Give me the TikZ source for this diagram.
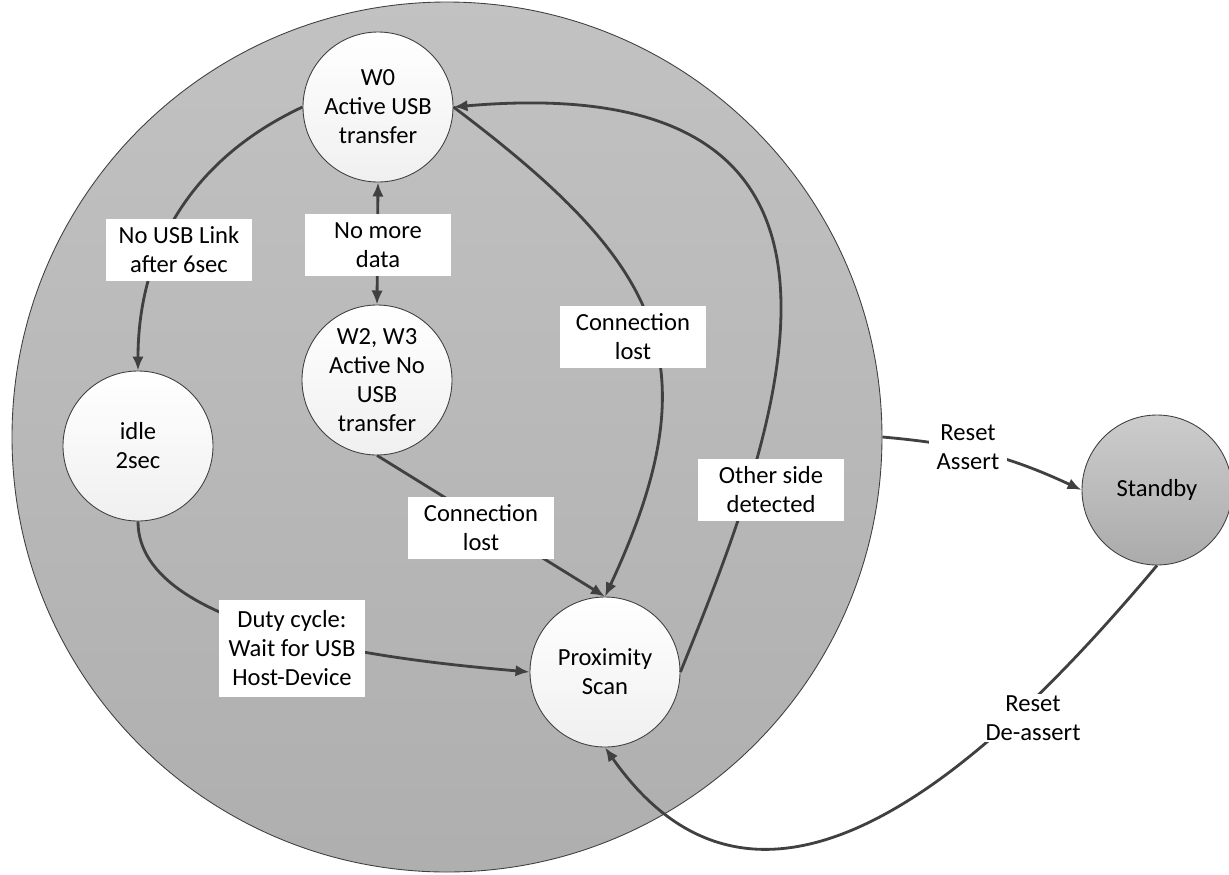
\documentclass[tikz,border=0pt]{standalone}
\usepackage{fontspec}
\setmainfont{Carlito}
\usepackage{tikz}
\usetikzlibrary{arrows.meta, shapes, calc}

\definecolor{linie}{HTML}{404040}

\begin{document}
\begin{tikzpicture}[>={Latex[length=8pt,width=6.5pt]}, thick, inner sep=0pt,
	zustand/.style={circle, draw=linie, line width=0.5pt, top color=white, bottom color=gray!12, minimum size=3cm, align=center, font=\fontsize{14}{16.5}\selectfont},
	box/.style={fill=white, minimum width=2.92cm, minimum height=1.24cm, align=center, font=\fontsize{14}{16.5}\selectfont},
	pfeil/.style={draw=linie, line width=1.6pt}]

	\useasboundingbox (0,0) rectangle (24.58,-17.48);

	% System
	\node[circle, draw=linie, line width=0.5pt, top color=gray!48, bottom color=gray!63, minimum size=17.4cm](sys) at (8.94,-8.74) {};

	% Zustaende
	\node[zustand](w0) at (7.56,-2.14) {W0\\Active USB\\transfer};
	\node[zustand](w2) at (7.54,-7.6) {W2, W3\\Active No\\USB\\transfer};
	\node[zustand](idle) at (2.76,-8.92) {idle\\2sec};
	\node[zustand](prox) at (12.1,-13.44) {Proximity\\Scan};
	\node[zustand, top color=gray!40, bottom color=gray!66](standby) at (23.14,-9.8) {Standby};

	% Uebergaenge
	\draw[pfeil, ->](w0.west) to[out=205, in=90] (idle.north);
	\draw[pfeil, <->](w0.south) -- (w2.north);
	\draw[pfeil, ->](w0.east) to[out=-37, in=65, looseness=1.3] (prox.north);
	\draw[pfeil, ->](w2.south) -- (prox.north);
	\draw[pfeil, ->](idle.south) to[out=-90, in=175, looseness=0.7] (prox.west);
	\draw[pfeil, ->](prox.east) to[out=68, in=5, out distance=5.14cm, in distance=9.4cm] (w0.east);
	\draw[pfeil, ->](sys.east) to[out=-5, in=155] (standby.west);
	\draw[pfeil, ->](standby.south) to[out=-130, in=-55, looseness=1.2] (prox.south);

	% Beschriftungen
	\node[box](l_nousb) at (3.58,-5.0) {No USB Link\\after 6sec};
	\node[box](l_nomore) at (7.56,-4.9) {No more\\data};
	\node[box](l_conn_a) at (12.66,-6.74) {Connection\\lost};
	\node[box](l_conn_b) at (9.62,-10.56) {Connection\\lost};
	\node[box](l_other) at (15.42,-9.8) {Other side\\detected};
	\node[box, minimum height=1.94cm](l_duty) at (5.84,-12.96) {Duty cycle:\\Wait for USB\\Host-Device};
	\node[box, minimum width=0pt, minimum height=0pt, inner xsep=0.15cm, inner ysep=1pt](l_assert) at (19.36,-8.94) {Reset\\Assert};
	\node[box, minimum width=0pt, minimum height=0pt, inner xsep=0.15cm, inner ysep=1pt](l_deassert) at (20.66,-14.36) {Reset\\De-assert};
\end{tikzpicture}
\end{document}
